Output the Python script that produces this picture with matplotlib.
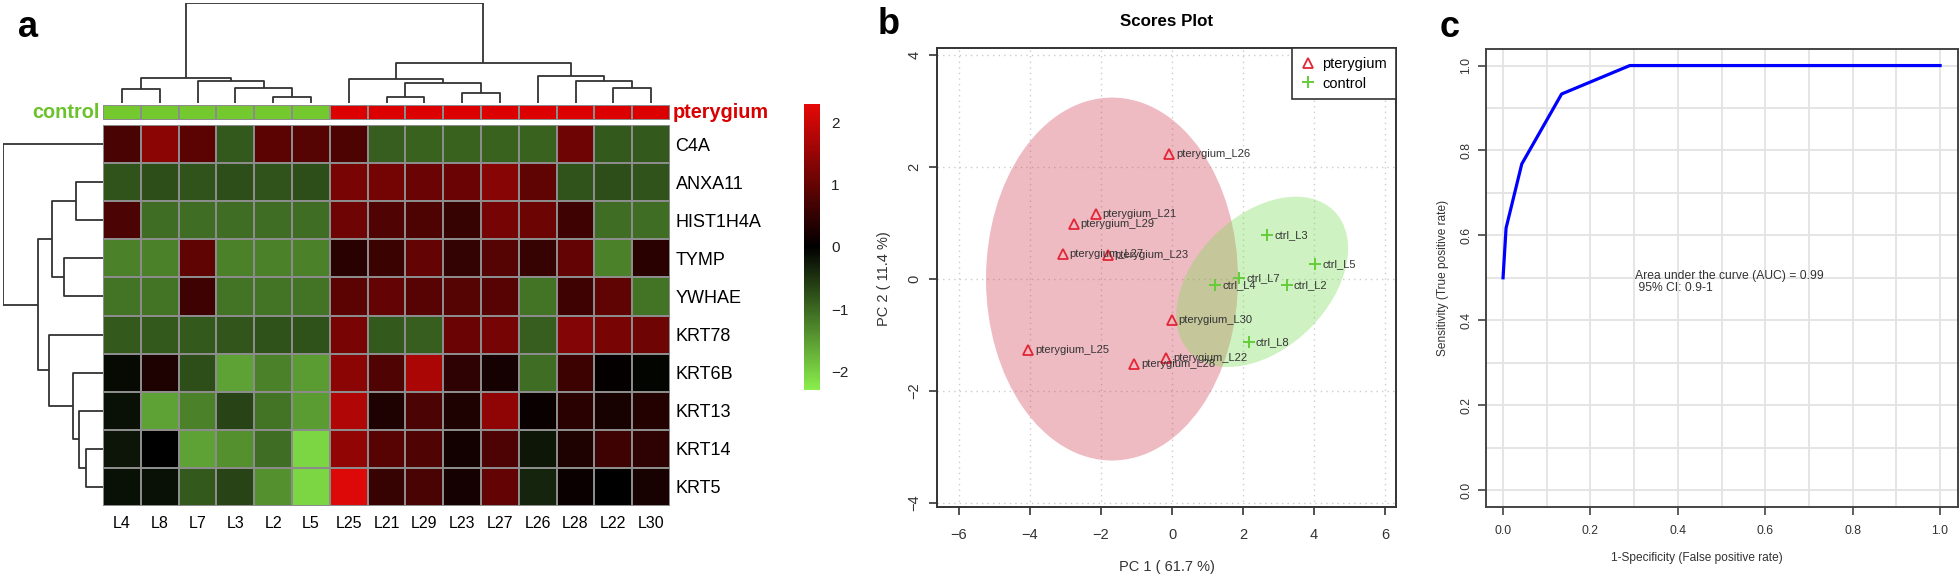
import numpy as np
import matplotlib
matplotlib.use("Agg")
import matplotlib.pyplot as plt
from matplotlib.colors import LinearSegmentedColormap, ListedColormap
from matplotlib.patches import Ellipse
from matplotlib.lines import Line2D

plt.rcParams["font.family"] = ["Liberation Sans", "DejaVu Sans"]

# ---- panel a: heatmap data ----
samples = ["L4", "L8", "L7", "L3", "L2", "L5", "L25", "L21", "L29", "L23", "L27", "L26", "L28", "L22", "L30"]
groups = ["control"] * 6 + ["pterygium"] * 9
genes = ["C4A", "ANXA11", "HIST1H4A", "TYMP", "YWHAE", "KRT78", "KRT6B", "KRT13", "KRT14", "KRT5"]
expr = [
    [0.73, 1.40, 0.90, -0.85, 0.90, 0.85, 0.78, -0.90, -0.95, -0.95, -0.95, -0.95, 1.10, -0.85, -0.85],
    [-0.80, -0.75, -0.80, -0.75, -0.80, -0.75, 1.20, 1.15, 1.05, 1.05, 1.35, 0.95, -0.80, -0.75, -0.80],
    [0.75, -1.05, -1.05, -1.05, -1.05, -1.05, 1.10, 0.80, 0.78, 0.55, 1.18, 1.08, 0.62, -1.05, -1.05],
    [-1.25, -1.25, 0.95, -1.25, -1.25, -1.25, 0.40, 0.58, 1.00, 0.52, 0.85, 0.55, 1.00, -1.25, 0.40],
    [-1.10, -1.10, 0.62, -1.10, -1.10, -1.10, 0.90, 1.00, 0.88, 0.86, 0.87, -1.10, 0.62, 0.95, -1.10],
    [-0.85, -0.85, -0.85, -0.82, -0.78, -0.78, 1.20, -0.85, -0.90, 1.05, 1.18, -0.90, 1.30, 1.20, 1.10],
    [-0.10, 0.30, -0.75, -1.55, -1.25, -1.50, 1.40, 0.80, 1.70, 0.45, 0.20, -1.05, 0.60, 0.05, -0.05],
    [-0.15, -1.55, -1.25, -0.65, -1.10, -1.50, 1.75, 0.30, 0.74, 0.30, 1.42, 0.10, 0.40, 0.25, 0.35],
    [-0.20, 0.00, -1.55, -1.40, -1.05, -2.05, 1.45, 0.88, 0.80, 0.18, 0.76, -0.22, 0.30, 0.62, 0.45],
    [-0.15, -0.15, -0.85, -0.65, -1.40, -2.05, 2.20, 0.55, 0.72, 0.20, 1.00, -0.35, 0.10, 0.00, 0.25],
]
# merges: (left, right, height); ints refer to earlier merges
col_links = [
    ("L4", "L8", 14), ("L2", "L5", 6), ("L3", 1, 15), ("L7", 2, 22), (0, 3, 25),
    ("L21", "L29", 6), ("L23", "L27", 10), (5, 6, 20), ("L25", 7, 24),
    ("L22", "L30", 15), ("L28", 9, 22), ("L26", 10, 27), (8, 11, 40), (4, 12, 100),
]
row_links = [
    ("ANXA11", "HIST1H4A", 27), ("TYMP", "YWHAE", 39), (0, 1, 51),
    ("KRT14", "KRT5", 17), ("KRT13", 3, 24), ("KRT6B", 4, 30), ("KRT78", 5, 54),
    (2, 6, 65), ("C4A", 7, 100),
]

# ---- panel b: PCA scores ----
pca_names = ["pterygium_L26", "pterygium_L21", "pterygium_L29", "pterygium_L27", "pterygium_L23",
             "pterygium_L30", "pterygium_L25", "pterygium_L22", "pterygium_L28",
             "ctrl_L3", "ctrl_L5", "ctrl_L7", "ctrl_L4", "ctrl_L2", "ctrl_L8"]
pca_group = ["pterygium"] * 9 + ["control"] * 6
pc1 = [-0.08, -2.15, -2.77, -3.08, -1.81, -0.01, -4.06, -0.17, -1.07, 2.69, 4.03, 1.90, 1.22, 3.24, 2.17]
pc2 = [2.23, 1.16, 0.99, 0.45, 0.43, -0.73, -1.27, -1.41, -1.52, 0.79, 0.27, 0.01, -0.11, -0.10, -1.12]
ell_group = ["pterygium", "control"]
ell_cx = [-1.69, 2.54]
ell_cy = [0.0, -0.05]
ell_w = [7.1, 5.05]
ell_h = [6.48, 2.68]
ell_angle = [0, 19.6]

# ---- panel c: ROC ----
fpr = [0.0, 0.0069, 0.0428, 0.134, 0.29, 1.0]
tpr = [0.5, 0.617, 0.768, 0.933, 1.0, 1.0]
auc_text = "Area under the curve (AUC) = 0.99\n 95% CI: 0.9-1"

W, H = 1960, 576
fig = plt.figure(figsize=(W / 100, H / 100), dpi=100)


def box(x0, y0, x1, y1):
    # pixel box (top-left origin) -> figure fraction rect
    return [x0 / W, 1 - y1 / H, (x1 - x0) / W, (y1 - y0) / H]


def draw_tree(ax, links, leaves, sideways):
    pos = {}
    hgt = {}
    for i, name in enumerate(leaves):
        pos[name] = i + 0.5
        hgt[name] = 0
    for k, (a, b, h) in enumerate(links):
        xs = [pos[a], pos[a], pos[b], pos[b]]
        ys = [hgt[a], h, h, hgt[b]]
        if sideways:
            ax.plot(ys, xs, color="#333333", lw=1.3, solid_capstyle="butt")
        else:
            ax.plot(xs, ys, color="#333333", lw=1.3, solid_capstyle="butt")
        pos[k] = (pos[a] + pos[b]) / 2
        hgt[k] = h


cmap = LinearSegmentedColormap.from_list("greenred", ["#8AEE4C", "#000000", "#E60808"])
vmin, vmax = -2.3, 2.3

ax_hm = fig.add_axes(box(103, 125, 670, 506))
ax_hm.pcolormesh(np.array(expr), cmap=cmap, vmin=vmin, vmax=vmax, edgecolors="#8c8c8c", linewidth=1.2)
ax_hm.set_xlim(0, len(samples))
ax_hm.set_ylim(len(genes), 0)
ax_hm.set_xticks(np.arange(len(samples)) + 0.5)
ax_hm.set_xticklabels(samples, fontsize=11.5)
ax_hm.set_yticks(np.arange(len(genes)) + 0.5)
ax_hm.set_yticklabels(genes, fontsize=13)
ax_hm.yaxis.tick_right()
ax_hm.tick_params(axis="x", length=0, pad=7)
ax_hm.tick_params(axis="y", length=0, pad=4)
for s in ax_hm.spines.values():
    s.set_visible(False)

ax_strip = fig.add_axes(box(103, 105, 670, 120))
codes = [[0 if g == "control" else 1 for g in groups]]
ax_strip.pcolormesh(np.array(codes), cmap=ListedColormap(["#74C92F", "#DD0000"]), vmin=0, vmax=1,
                    edgecolors="#8c8c8c", linewidth=1.2)
ax_strip.set_xlim(0, len(samples))
ax_strip.axis("off")
fig.text(100 / W, 1 - 113 / H, "control", color="#6CC22C", fontsize=14.3, fontweight="bold", ha="right", va="center")
fig.text(673 / W, 1 - 113 / H, "pterygium", color="#D80000", fontsize=14.3, fontweight="bold", ha="left", va="center")

ax_cd = fig.add_axes(box(103, 3, 670, 103))
draw_tree(ax_cd, col_links, samples, False)
ax_cd.set_xlim(0, len(samples))
ax_cd.set_ylim(0, 100.5)
ax_cd.axis("off")

ax_rd = fig.add_axes(box(3, 125, 103, 506))
draw_tree(ax_rd, row_links, genes, True)
ax_rd.set_xlim(100.5, 0)
ax_rd.set_ylim(len(genes), 0)
ax_rd.axis("off")

cax = fig.add_axes(box(804, 104, 820, 390))
sm = plt.cm.ScalarMappable(cmap=cmap, norm=plt.Normalize(vmin, vmax))
cb = fig.colorbar(sm, cax=cax, ticks=[-2, -1, 0, 1, 2])
cb.outline.set_visible(False)
cax.tick_params(length=0, pad=8, labelsize=11, colors="#222222")

fig.text(18 / W, 1 - 37 / H, "a", fontsize=26, fontweight="bold", va="baseline")
fig.text(878 / W, 1 - 34 / H, "b", fontsize=26, fontweight="bold", va="baseline")
fig.text(1440 / W, 1 - 37 / H, "c", fontsize=26, fontweight="bold", va="baseline")

# ---- panel b ----
ax_b = fig.add_axes(box(937, 48, 1396, 507))
ell_colors = {"pterygium": "#D23C50", "control": "#78DC50"}
for g, cx, cy, w, h, a in zip(ell_group, ell_cx, ell_cy, ell_w, ell_h, ell_angle):
    ax_b.add_patch(Ellipse((cx, cy), w, h, angle=a, facecolor=ell_colors[g], alpha=0.35, edgecolor="none", zorder=1))
for name, g, x, y in zip(pca_names, pca_group, pc1, pc2):
    if g == "pterygium":
        ax_b.plot(x, y, marker="^", ms=7, mfc="none", mec="#E32636", mew=1.3, zorder=3)
    else:
        ax_b.plot(x, y, marker="+", ms=9, mec="#66CC3A", mew=1.4, zorder=3)
    ax_b.annotate(name, (x, y), xytext=(5, 0), textcoords="offset points", fontsize=8,
                  color="#333333", va="center", ha="left", zorder=4)
ax_b.set_xlim(-6.62, 6.31)
ax_b.set_ylim(-4.07, 4.125)
ax_b.set_xticks([-6, -4, -2, 0, 2, 4, 6])
ax_b.set_yticks([-4, -2, 0, 2, 4])
ax_b.grid(True, color="#cccccc", linestyle=(0, (1, 3)), lw=1)
ax_b.set_axisbelow(True)
ax_b.tick_params(length=6, width=1.2, color="#333333", labelsize=10.5, labelcolor="#333333")
ax_b.tick_params(axis="x", pad=9)
ax_b.tick_params(axis="y", pad=5)
for t in ax_b.get_yticklabels():
    t.set_rotation(90)
    t.set_va("center")
for s in ax_b.spines.values():
    s.set_color("#333333")
    s.set_linewidth(1.4)
ax_b.set_title("Scores Plot", fontsize=12.2, fontweight="bold", pad=16)
fig.text(1167 / W, 1 - 567 / H, "PC 1 ( 61.7 %)", fontsize=10.5, color="#333333", ha="center", va="center")
fig.text(884 / W, 1 - 279 / H, "PC 2 ( 11.4 %)", fontsize=10.5, color="#333333", ha="center", va="center", rotation=90)
handles = [Line2D([], [], marker="^", ms=7, mfc="none", mec="#E32636", mew=1.3, ls="none"),
           Line2D([], [], marker="+", ms=9, mec="#66CC3A", mew=1.4, ls="none")]
leg = ax_b.legend(handles, ["pterygium", "control"], loc="upper right", borderaxespad=0, fancybox=False,
                  edgecolor="#333333", framealpha=1, fontsize=10.5, handlelength=1.0, handletextpad=0.5,
                  borderpad=0.6, labelspacing=0.4)
leg.get_frame().set_linewidth(1.2)

# ---- panel c ----
ax_c = fig.add_axes(box(1486, 49, 1958, 507))
ax_c.plot(fpr, tpr, color="#0000FF", lw=2.3, zorder=3)
ax_c.set_xlim(-0.039, 1.041)
ax_c.set_ylim(-0.04, 1.039)
ticks = [0.0, 0.2, 0.4, 0.6, 0.8, 1.0]
ax_c.set_xticks(ticks)
ax_c.set_yticks(ticks)
ax_c.set_xticklabels(["%.1f" % t for t in ticks])
ax_c.set_yticklabels(["%.1f" % t for t in ticks], rotation=90, va="center")
for g in np.arange(0, 1.01, 0.1):
    ax_c.axvline(g, color="#e3e3e3", lw=1.3, zorder=1)
    ax_c.axhline(g, color="#e3e3e3", lw=1.3, zorder=1)
ax_c.tick_params(length=6, width=1.2, color="#444444", labelsize=8.8, labelcolor="#333333")
ax_c.tick_params(axis="x", pad=7)
ax_c.tick_params(axis="y", pad=4)
for s in ax_c.spines.values():
    s.set_color("#444444")
    s.set_linewidth(1.4)
ax_c.text(0.302, 0.49, auc_text, fontsize=8.7, color="#333333", ha="left", va="center", linespacing=1.05)
fig.text(1697 / W, 1 - 558 / H, "1-Specificity (False positive rate)", fontsize=8.6, color="#333333",
         ha="center", va="center")
fig.text(1443 / W, 1 - 278 / H, "Sensitivity (True positive rate)", fontsize=8.6, color="#333333",
         ha="center", va="center", rotation=90)

fig.savefig("out.png", dpi=100)
